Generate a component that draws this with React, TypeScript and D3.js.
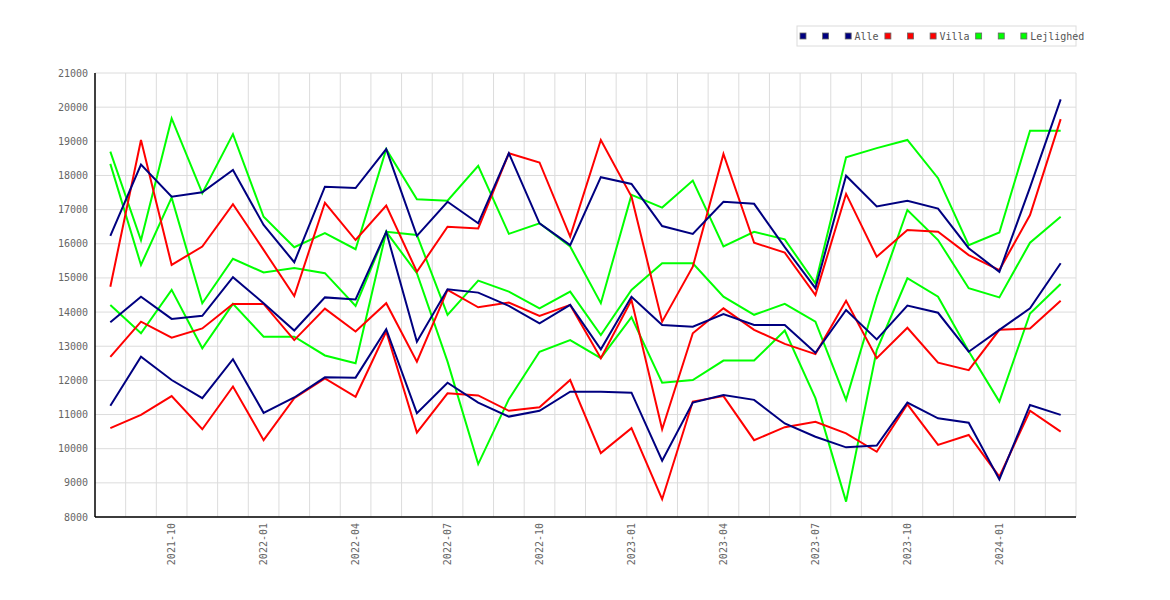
import React from "react";
import * as d3 from "d3";

const months = [
  "2021-08","2021-09","2021-10","2021-11","2021-12",
  "2022-01","2022-02","2022-03","2022-04","2022-05","2022-06","2022-07","2022-08","2022-09","2022-10","2022-11","2022-12",
  "2023-01","2023-02","2023-03","2023-04","2023-05","2023-06","2023-07","2023-08","2023-09","2023-10","2023-11","2023-12",
  "2024-01","2024-02","2024-03",
];

const tickLabels = ["2021-10","2022-01","2022-04","2022-07","2022-10","2023-01","2023-04","2023-07","2023-10","2024-01"];
const yTicks = [8000,9000,10000,11000,12000,13000,14000,15000,16000,17000,18000,19000,20000,21000];

const alleHigh = [16230,18320,17380,17510,18160,16550,15460,17670,17630,18770,16230,17230,16600,18650,16600,15960,17950,17750,16520,16290,17230,17170,15900,14700,17990,17090,17260,17030,15870,15180,17650,20230];
const alleMid = [13700,14450,13800,13890,15020,14260,13460,14430,14370,16350,13130,14670,14570,14180,13670,14210,12910,14450,13620,13570,13940,13620,13620,12810,14060,13200,14190,13980,12840,13480,14110,15430];
const alleLow = [11260,12690,12010,11480,12620,11050,11500,12090,12080,13500,11040,11930,11350,10940,11110,11670,11670,11640,9650,11350,11570,11430,10740,10350,10040,10090,11350,10890,10760,9100,11280,10990];

const villaHigh = [14740,19040,15380,15920,17160,15820,14470,17200,16110,17120,15180,16500,16450,18650,18380,16210,19040,17380,13720,15330,18630,16030,15740,14500,17460,15620,16400,16350,15670,15230,16840,19650];
const villaMid = [12690,13720,13250,13520,14240,14240,13180,14100,13430,14260,12550,14650,14140,14280,13890,14210,12650,14350,10570,13380,14110,13480,13070,12770,14330,12650,13540,12520,12300,13480,13520,14330];
const villaLow = [10600,10990,11540,10570,11820,10250,11480,12060,11520,13430,10470,11620,11560,11110,11210,12010,9870,10600,8520,11380,11540,10250,10630,10790,10450,9910,11300,10110,10400,9180,11110,10500];

const lejA = [18700,16100,19670,17480,19210,16790,15900,16310,15840,18770,17300,17260,18280,16290,16600,15920,14260,17430,17060,17850,15920,16350,16130,14840,18530,18800,19040,17920,15960,16330,19310,19310];
const lejB = [18340,15380,17350,14260,15560,15160,15290,15140,14180,16350,16260,13920,14920,14600,14110,14600,13330,14650,15430,15430,14450,13920,14240,13720,11430,14450,16990,16110,14700,14430,16030,16790];
const lejC = [14210,13380,14650,12940,14240,13280,13280,12730,12500,16350,15140,12550,9550,11450,12840,13180,12650,13850,11930,12010,12580,12580,13460,11480,8450,12890,14990,14450,12850,11380,13960,14820];

const seriesNames = ["Alle", "Villa", "Lejlighed"];
const seriesColors = ["#000080", "#ff0000", "#00ff00"];

const groups = [
  { name: seriesNames[2], color: seriesColors[2], lines: [lejA, lejB, lejC] },
  { name: seriesNames[1], color: seriesColors[1], lines: [villaHigh, villaMid, villaLow] },
  { name: seriesNames[0], color: seriesColors[0], lines: [alleHigh, alleMid, alleLow] },
];

const legendItems = [
  { label: "", color: seriesColors[0] },
  { label: "", color: seriesColors[0] },
  { label: seriesNames[0], color: seriesColors[0] },
  { label: "", color: seriesColors[1] },
  { label: "", color: seriesColors[1] },
  { label: seriesNames[1], color: seriesColors[1] },
  { label: "", color: seriesColors[2] },
  { label: "", color: seriesColors[2] },
  { label: seriesNames[2], color: seriesColors[2] },
];

const W = 1170;
const H = 600;
const left = 95;
const right = 1076;
const top = 73;
const bottom = 517;
const FONT = "'DejaVu Sans Mono', monospace";
const TEXT = "#666";

export default function App() {
  const x = d3.scaleBand<string>().domain(months).range([left, right]).padding(0);
  const y = d3.scaleLinear().domain([8000, 21000]).range([bottom, top]);
  const cx = (m: string) => (x(m) as number) + x.bandwidth() / 2;
  const line = d3
    .line<number>()
    .x((_, i) => cx(months[i]))
    .y((v) => y(v));

  // legend layout
  const charW = 5.85;
  let lx = 800;
  const legendLayout = legendItems.map((it) => {
    const pos = lx;
    if (it.label) lx += 6 + 3.3 + it.label.length * charW + 7;
    else lx += 22.6;
    return { ...it, x: pos };
  });

  return (
    <div style={{ position: "absolute", left: 0, top: 0 }}>
      <svg width={W} height={H} style={{ display: "block", background: "#fff" }}>
        <rect x={0} y={0} width={W} height={H} fill="#fff" />
        {/* horizontal grid */}
        {yTicks.map((t) => (
          <line key={"h" + t} x1={left} x2={right} y1={y(t)} y2={y(t)} stroke="#dcdcdc" strokeWidth={1} />
        ))}
        {/* vertical grid at band boundaries */}
        {months.slice(1).map((m) => (
          <line key={"v" + m} x1={x(m)} x2={x(m)} y1={top} y2={bottom} stroke="#dcdcdc" strokeWidth={1} />
        ))}
        <line x1={right} x2={right} y1={top} y2={bottom} stroke="#dcdcdc" strokeWidth={1} />

        {/* lines */}
        {groups.map((g) =>
          g.lines.map((vals, k) => (
            <path key={g.name + k} d={line(vals) || ""} fill="none" stroke={g.color} strokeWidth={2} strokeLinejoin="miter" />
          ))
        )}

        {/* axes */}
        <line x1={left} x2={left} y1={top} y2={bottom} stroke="#000" strokeWidth={1.5} />
        <line x1={left} x2={right} y1={bottom} y2={bottom} stroke="#000" strokeWidth={1.5} />

        {/* y labels */}
        {yTicks.map((t) => (
          <text key={"yl" + t} x={88} y={y(t)} dy="0.35em" textAnchor="end" fontFamily={FONT} fontSize={10} fill={TEXT}>
            {t}
          </text>
        ))}

        {/* x labels */}
        {tickLabels.map((m) => (
          <text
            key={"xl" + m}
            transform={`translate(${cx(m)},${bottom + 6}) rotate(-90)`}
            dy="0.35em"
            textAnchor="end"
            fontFamily={FONT}
            fontSize={10}
            fill={TEXT}
          >
            {m}
          </text>
        ))}

        {/* legend */}
        <rect x={797} y={26} width={279} height={20} fill="#fff" stroke="#dcdcdc" strokeWidth={1} />
        {legendLayout.map((it, i) => (
          <g key={"lg" + i}>
            <rect x={it.x} y={33} width={6} height={6} fill={it.color} stroke="#666" strokeWidth={0.8} />
            {it.label && (
              <text x={it.x + 9.3} y={40} fontFamily={FONT} fontSize={10} fill="#555">
                {it.label}
              </text>
            )}
          </g>
        ))}
      </svg>
    </div>
  );
}
